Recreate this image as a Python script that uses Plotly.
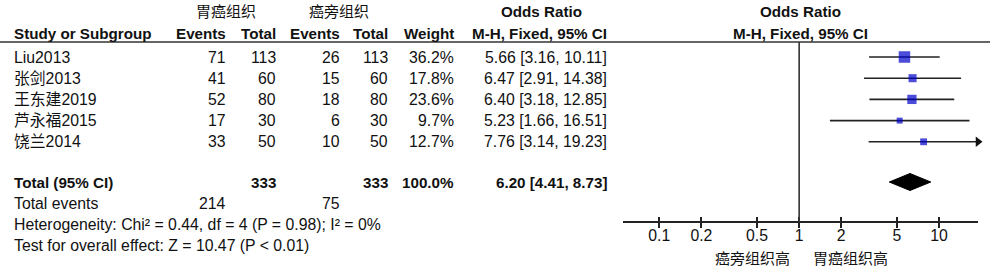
import numpy as np
import plotly.graph_objects as go

# ---------------- data ----------------
studies = ["Liu2013", "张剑2013", "王东建2019", "芦永福2015", "饶兰2014"]
exp_events = [71, 41, 52, 17, 33]
exp_total = [113, 60, 80, 30, 50]
ctl_events = [26, 15, 18, 6, 10]
ctl_total = [113, 60, 80, 30, 50]
weights = [36.2, 17.8, 23.6, 9.7, 12.7]
or_est = [5.66, 6.47, 6.40, 5.23, 7.76]
or_lo = [3.16, 2.91, 3.18, 1.66, 3.14]
or_hi = [10.11, 14.38, 12.85, 16.51, 19.23]

total_exp = 333
total_ctl = 333
total_weight = 100.0
total_or = 6.20
total_lo = 4.41
total_hi = 8.73
total_events_exp = 214
total_events_ctl = 75
het_text = "Heterogeneity: Chi² = 0.44, df = 4 (P = 0.98); I² = 0%"
test_text = "Test for overall effect: Z = 10.47 (P < 0.01)"

group_exp = "胃癌组织"
group_ctl = "癌旁组织"
favours_left = "癌旁组织高"
favours_right = "胃癌组织高"

tick_vals = [0.1, 0.2, 0.5, 1, 2, 5, 10]
tick_text = ["0.1", "0.2", "0.5", "1", "2", "5", "10"]
X_MIN, X_MAX = 0.055, 19.0

# ---------------- layout constants (pixels) ----------------
W, H = 1000, 279
FONT = "Arial, 'Liberation Sans', 'Noto Sans CJK SC', sans-serif"
FS = 15.8
FSB = 15.2
FS_CJK = 15
TXT = "#111111"

row_y0, row_step = 57, 21.2
row_ys = [row_y0 + i * row_step for i in range(len(studies))]
y_head1, y_head2, y_line = 12, 33, 42
y_total, y_tevents, y_het, y_test = 182, 203, 224, 245
y_axis, y_fav = 222, 258

x_left = 12
col_e1, col_t1, col_e2, col_t2, col_w, col_or = 228, 278, 342, 390, 456, 609
ax_left, ax_right = 623, 978


def px(x):
    return x / W


def py(y):
    return 1 - y / H


annotations = []


def txt(text, x, y, anchor="right", bold=False, size=None):
    if size is None:
        size = FSB if bold else FS
    annotations.append(dict(
        text=f"<b>{text}</b>" if bold else text,
        x=px(x), y=py(y), xref="paper", yref="paper",
        xanchor=anchor, yanchor="middle", showarrow=False,
        font=dict(family=FONT, size=size, color=TXT),
    ))


# headers
txt(group_exp, 226, y_head1, "center", size=FS_CJK)
txt(group_ctl, 339, y_head1, "center", size=FS_CJK)
txt("Odds Ratio", 541, y_head1, "center", bold=True)
txt("Odds Ratio", 800, y_head1, "center", bold=True)
txt("Study or Subgroup", x_left, y_head2, "left", bold=True)
txt("Events", col_e1, y_head2, bold=True)
txt("Total", col_t1, y_head2, bold=True)
txt("Events", col_e2, y_head2, bold=True)
txt("Total", col_t2, y_head2, bold=True)
txt("Weight", col_w, y_head2, bold=True)
txt("M-H, Fixed, 95% CI", col_or, y_head2, bold=True)
txt("M-H, Fixed, 95% CI", 800, y_head2, "center", bold=True)

# study rows
for i, s in enumerate(studies):
    y = row_ys[i]
    txt(s, x_left, y, "left")
    txt(str(exp_events[i]), col_e1, y)
    txt(str(exp_total[i]), col_t1, y)
    txt(str(ctl_events[i]), col_e2, y)
    txt(str(ctl_total[i]), col_t2, y)
    txt(f"{weights[i]:.1f}%", col_w, y)
    txt(f"{or_est[i]:.2f} [{or_lo[i]:.2f}, {or_hi[i]:.2f}]", col_or, y)

# total rows
txt("Total (95% CI)", x_left, y_total, "left", bold=True)
txt(str(total_exp), col_t1, y_total, bold=True)
txt(str(total_ctl), col_t2, y_total, bold=True)
txt(f"{total_weight:.1f}%", col_w, y_total, bold=True)
txt(f"{total_or:.2f} [{total_lo:.2f}, {total_hi:.2f}]", col_or, y_total, bold=True)
txt("Total events", x_left, y_tevents, "left")
txt(str(total_events_exp), col_e1, y_tevents)
txt(str(total_events_ctl), col_e2, y_tevents)
txt(het_text, x_left, y_het, "left")
txt(test_text, x_left, y_test, "left")

# favours labels
txt(favours_left, 792, y_fav, "right", size=FS_CJK)
txt(favours_right, 811, y_fav, "left", size=FS_CJK)

fig = go.Figure()

# CI lines
for i in range(len(studies)):
    hi = min(or_hi[i], X_MAX)
    fig.add_trace(go.Scatter(
        x=[or_lo[i], hi], y=[row_ys[i], row_ys[i]], mode="lines",
        line=dict(color="#222222", width=1.6), cliponaxis=False,
        hoverinfo="skip", showlegend=False,
    ))

# arrows for CIs beyond axis
arr_x = [X_MAX for h in or_hi if h > X_MAX]
arr_y = [row_ys[i] for i, h in enumerate(or_hi) if h > X_MAX]
fig.add_trace(go.Scatter(
    x=arr_x, y=arr_y, mode="markers",
    marker=dict(symbol="triangle-right", size=9, color="#111111"),
    cliponaxis=False, hoverinfo="skip", showlegend=False,
))

# weight squares
wmax = max(weights)
sizes = [11.5 * np.sqrt(w / wmax) for w in weights]
fig.add_trace(go.Scatter(
    x=or_est, y=row_ys, mode="markers",
    marker=dict(symbol="square", size=sizes, color="#0000CC",
                line=dict(width=0)),
    cliponaxis=False, hoverinfo="skip", showlegend=False,
))

# diamond
dh = 8.5
fig.add_trace(go.Scatter(
    x=[total_lo, total_or, total_hi, total_or, total_lo],
    y=[y_total, y_total - dh, y_total, y_total + dh, y_total],
    mode="lines", fill="toself", fillcolor="#000000",
    line=dict(color="#000000", width=1), hoverinfo="skip", showlegend=False,
))

shapes = [
    dict(type="line", xref="paper", yref="y", x0=0, x1=px(990),
         y0=y_line, y1=y_line, line=dict(color="#333333", width=1.6)),
    dict(type="line", xref="x", yref="y", x0=1, x1=1,
         y0=y_line, y1=y_axis, line=dict(color="#333333", width=1.6)),
]

axis_common = dict(
    type="log", range=[np.log10(X_MIN), np.log10(X_MAX)],
    domain=[px(ax_left), px(ax_right)], anchor="free",
    position=py(y_axis), tickvals=tick_vals, ticktext=tick_text,
    showgrid=False, zeroline=False, fixedrange=True,
    ticklen=5, tickwidth=1.6, tickcolor="#222222",
)

fig.update_layout(
    width=W, height=H,
    margin=dict(l=0, r=0, t=0, b=0),
    paper_bgcolor="white", plot_bgcolor="white",
    xaxis=dict(**axis_common, ticks="outside", showline=True,
               linecolor="#222222", linewidth=1.6, ticklabelstandoff=-6,
               tickfont=dict(family=FONT, size=FS, color=TXT)),
    xaxis2=dict(**axis_common, ticks="inside", overlaying="x",
                showline=False, showticklabels=False),
    yaxis=dict(range=[H, 0], domain=[0, 1], visible=False,
               fixedrange=True),
    shapes=shapes,
    annotations=annotations,
)
# dummy trace to activate xaxis2
fig.add_trace(go.Scatter(x=[1], y=[y_axis], xaxis="x2", mode="markers",
                         marker=dict(opacity=0), hoverinfo="skip",
                         showlegend=False))

fig.write_html("out.html")
